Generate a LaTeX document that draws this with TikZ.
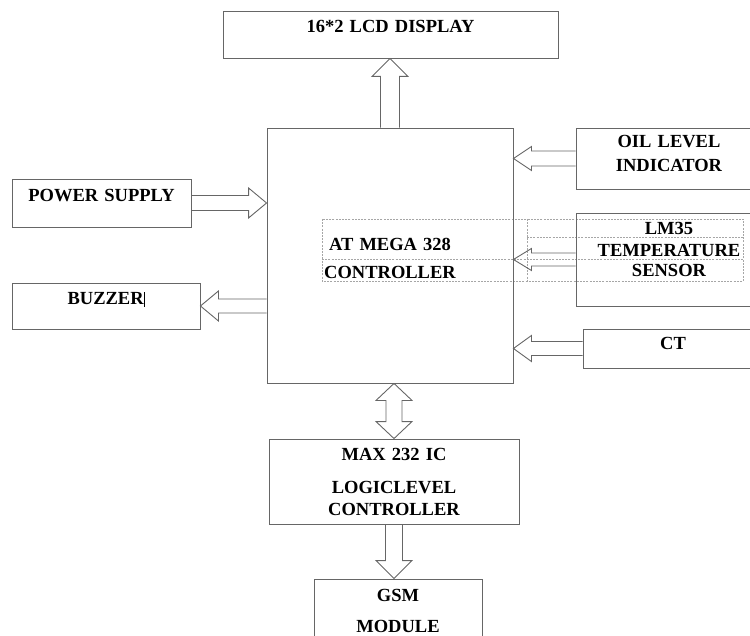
\documentclass[tikz,border=0pt]{standalone}
\usepackage{fontspec}
\setmainfont{Liberation Serif}
\usetikzlibrary{calc,positioning}

\tikzset{
  block/.style={draw=black!60, line width=0.9pt, inner sep=0pt, align=center, anchor=base,
    font=\bfseries\fontsize{18.5}{22}\selectfont},
  fat/.style={draw=black!60, line width=0.9pt, line join=miter},
  gridline/.style={draw=black!35, line width=0.6pt, dash pattern=on 2pt off 1.2pt},
}

% hollow block arrow: from, to, shaft half width, head half width
\newcommand{\fatarrow}[4]{%
  \coordinate (fa) at #1;
  \coordinate (fb) at #2;
  \coordinate (fc) at ($(fb)!18pt!(fa)$);
  \draw[fat] ($(fa)!#3!90:(fb)$) -- ($(fc)!#3!90:(fb)$) -- ($(fc)!#4!90:(fb)$) -- (fb)
    -- ($(fc)!#4!-90:(fb)$) -- ($(fc)!#3!-90:(fb)$) -- ($(fa)!#3!-90:(fb)$);
}
% hollow arrow with two heads
\newcommand{\dblarrow}[4]{%
  \coordinate (fa) at #1;
  \coordinate (fb) at #2;
  \coordinate (fc) at ($(fa)!17pt!(fb)$);
  \coordinate (fd) at ($(fb)!17pt!(fa)$);
  \draw[fat] (fa) -- ($(fc)!#4!90:(fb)$) -- ($(fc)!#3!90:(fb)$) -- ($(fd)!#3!90:(fb)$)
    -- ($(fd)!#4!90:(fb)$) -- (fb) -- ($(fd)!#4!-90:(fb)$) -- ($(fd)!#3!-90:(fb)$)
    -- ($(fc)!#3!-90:(fb)$) -- ($(fc)!#4!-90:(fb)$) -- cycle;
}

\begin{document}
\begin{tikzpicture}[x=1pt, y=-1pt]
\path[use as bounding box, clip] (0,0) rectangle (750,636);

% table grid round the controller text
\draw[gridline] (322,219) rectangle (743,281);
\draw[gridline] (322,259) -- (743,259);
\draw[gridline] (527,237) -- (743,237);
\draw[gridline] (527,219) -- (527,281);

% blocks
\node[block, text width=335pt, text height=22pt, text depth=25pt] (lcd) at (390.5,33) {16*2 LCD DISPLAY};
\node[block, text width=246pt, text height=123pt, text depth=132pt] (main) at (390,251) {AT MEGA 328\\[6pt]CONTROLLER};
\node[block, text width=179pt, text height=23pt, text depth=25pt] (power) at (101.5,202) {POWER SUPPLY};
\node[block, text width=188pt, text height=22pt, text depth=24pt] (buzzer) at (106,305) {BUZZER\rule[-2pt]{0.8pt}{15pt}};
\node[block, text width=186pt, text height=20pt, text depth=41pt] (oil) at (669,148) {OIL LEVEL\\[2pt]INDICATOR};
\node[block, text width=186pt, text height=22pt, text depth=71pt] (sensor) at (669,235) {LM35\\TEMPERATURE\\[-2pt]SENSOR};
\node[block, text width=180pt, text height=21pt, text depth=18pt] (ct) at (673,350) {CT};
\node[block, text width=250pt, text height=21pt, text depth=64pt] (max) at (394,460) {MAX 232 IC\\[11pt]LOGICLEVEL\\CONTROLLER};
\node[block, text width=168pt, text height=22pt, text depth=58pt] (gsm) at (398,601) {GSM\\[9pt]MODULE};

% block arrows
\fatarrow{(main.north)}{(main.north |- lcd.south)}{9.5pt}{18pt}
\fatarrow{(power.east)}{(main.west |- power.east)}{7.5pt}{15pt}
\fatarrow{(main.west |- buzzer.east)}{(buzzer.east)}{7pt}{15pt}
\fatarrow{(oil.west)}{(main.east |- oil.west)}{7.5pt}{12pt}
\fatarrow{(sensor.west)}{(main.east |- sensor.west)}{6.5pt}{11pt}
\fatarrow{(ct.west)}{(main.east |- ct.west)}{7pt}{13pt}
\dblarrow{(max.north |- main.south)}{(max.north)}{8pt}{18pt}
\fatarrow{(max.south)}{(max.south |- gsm.north)}{8.5pt}{18pt}

\end{tikzpicture}
\end{document}
